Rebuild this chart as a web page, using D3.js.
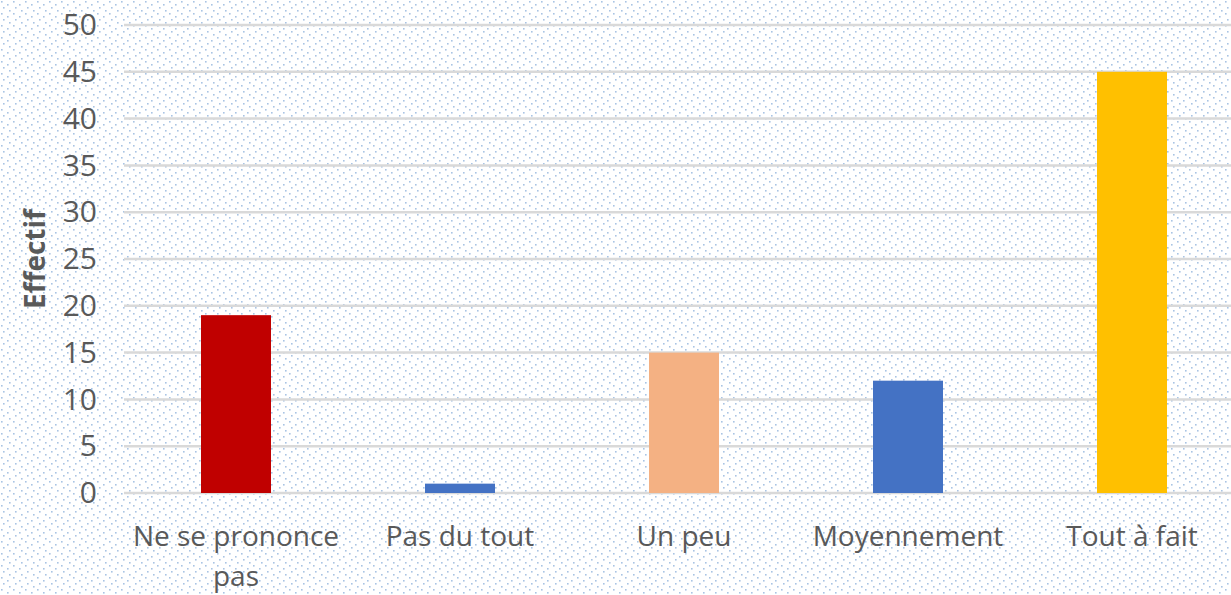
<!DOCTYPE html>
<html>
<head>
<meta charset="utf-8">
<script src="https://cdn.jsdelivr.net/npm/d3@7"></script>
<style>
  body { margin: 0; overflow: hidden; background: #fff; }
  text { font-family: "Open Sans", "Noto Sans", sans-serif; }
</style>
</head>
<body>
<div id="chart"></div>
<script>
// Data
var categories = ["Ne se prononce pas", "Pas du tout", "Un peu", "Moyennement", "Tout à fait"];
var values = [19, 1, 15, 12, 45];
var colors = ["#C00000", "#4472C4", "#F4B183", "#4472C4", "#FFC000"];
var yTicks = [0, 5, 10, 15, 20, 25, 30, 35, 40, 45, 50];

// Chart size
var width = 1231;
var height = 595;
var margin = { top: 25, right: -13, bottom: 102, left: 124 };
var innerWidth = width - margin.left - margin.right;
var innerHeight = height - margin.top - margin.bottom;

var svg = d3.select("#chart")
  .append("svg")
  .attr("width", width)
  .attr("height", height);

// Dotted background pattern
var pattern = svg.append("defs").append("pattern")
  .attr("id", "dots")
  .attr("width", 12)
  .attr("height", 12)
  .attr("patternUnits", "userSpaceOnUse");
pattern.append("rect").attr("width", 12).attr("height", 12).attr("fill", "#fff");
[[1, 1], [7, 4], [3, 7], [9, 10]].forEach(function (p) {
  pattern.append("rect")
    .attr("x", p[0]).attr("y", p[1])
    .attr("width", 1.6).attr("height", 1.6)
    .attr("fill", "#a9c4e4");
});
svg.append("rect")
  .attr("width", width)
  .attr("height", height)
  .attr("fill", "url(#dots)");

var g = svg.append("g")
  .attr("transform", "translate(" + margin.left + "," + margin.top + ")");

// Scales
var xScale = d3.scaleBand()
  .domain(categories)
  .range([0, innerWidth])
  .padding(0);

var yScale = d3.scaleLinear()
  .domain([0, 50])
  .range([innerHeight, 0]);

// Gridlines
g.append("g")
  .selectAll("line")
  .data(yTicks)
  .join("line")
  .attr("x1", 0)
  .attr("x2", innerWidth)
  .attr("y1", function (d) { return yScale(d); })
  .attr("y2", function (d) { return yScale(d); })
  .attr("stroke", "#d9d9d9")
  .attr("stroke-width", 2.5);

// Y axis labels
var yAxis = g.append("g")
  .call(d3.axisLeft(yScale).tickValues(yTicks).tickSize(0).tickPadding(27));
yAxis.select(".domain").remove();
yAxis.selectAll("text")
  .attr("fill", "#595959")
  .style("font-size", "30px")
  .style("font-family", "'Open Sans', 'Noto Sans', sans-serif");

// Bars
var barW = xScale.bandwidth() * 0.3125;
g.selectAll(".bar")
  .data(values)
  .join("rect")
  .attr("class", "bar")
  .attr("x", function (d, i) { return xScale(categories[i]) + xScale.bandwidth() / 2 - barW / 2; })
  .attr("y", function (d) { return yScale(d); })
  .attr("width", barW)
  .attr("height", function (d) { return yScale(0) - yScale(d); })
  .attr("fill", function (d, i) { return colors[i]; });

// Category labels (wrapped)
var labelLines = {
  "Ne se prononce pas": ["Ne se prononce", "pas"]
};
var xLabels = g.append("g")
  .attr("transform", "translate(0," + innerHeight + ")");
categories.forEach(function (c) {
  var lines = labelLines[c] || [c];
  var t = xLabels.append("text")
    .attr("x", xScale(c) + xScale.bandwidth() / 2)
    .attr("y", 53)
    .attr("text-anchor", "middle")
    .attr("fill", "#595959")
    .style("font-size", "28px");
  lines.forEach(function (l, i) {
    t.append("tspan")
      .attr("x", xScale(c) + xScale.bandwidth() / 2)
      .attr("dy", i === 0 ? 0 : 40)
      .text(l);
  });
});

// Y axis title
svg.append("text")
  .attr("transform", "translate(45," + (margin.top + yScale(25)) + ") rotate(-90)")
  .attr("text-anchor", "middle")
  .attr("fill", "#595959")
  .style("font-size", "28px")
  .style("font-weight", "bold")
  .text("Effectif");
</script>
</body>
</html>
